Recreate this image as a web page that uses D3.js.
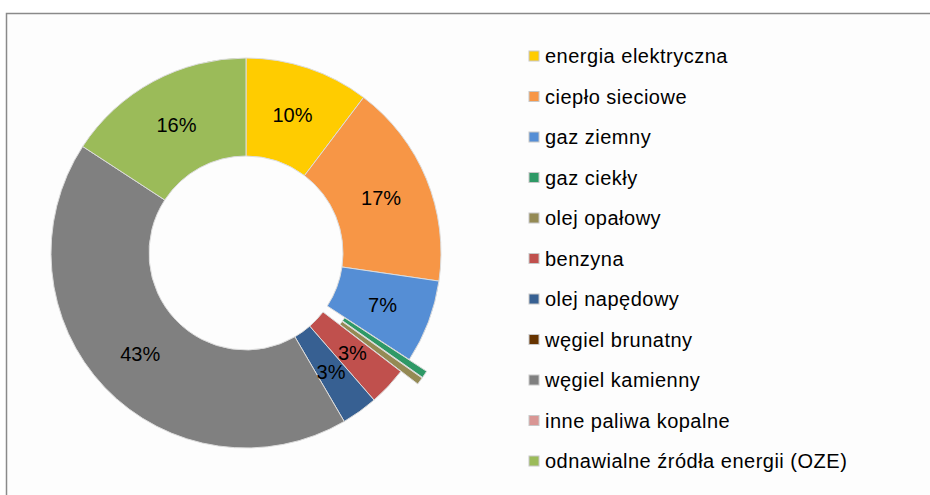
<!DOCTYPE html>
<html>
<head>
<meta charset="utf-8">
<script src="https://cdn.jsdelivr.net/npm/d3@7"></script>
<style>
  body { margin: 0; background: #ffffff; }
  svg { display: block; font-family: "Liberation Sans", Arial, sans-serif; }
</style>
</head>
<body>
<div id="chart"></div>
<script>
// categories and shares (%)
const categories = ["energia elektryczna", "ciepło sieciowe", "gaz ziemny", "gaz ciekły",
  "olej opałowy", "benzyna", "olej napędowy", "węgiel brunatny", "węgiel kamienny",
  "inne paliwa kopalne", "odnawialne źródła energii (OZE)"];
const shares = [10.3, 17.0, 6.9, 0.6, 0.6, 3.2, 3.0, 0, 42.6, 0, 15.8];
const colors = ["#FFCC00", "#F79646", "#558ED5", "#2E9966", "#948A54", "#C0504D",
  "#376092", "#663300", "#808080", "#D99694", "#9BBB59"];
// slices pulled out of the ring
const exploded = ["gaz ciekły", "olej opałowy"];

const width = 930, height = 495;
const svg = d3.select("#chart").append("svg").attr("width", width).attr("height", height);

// frame
svg.append("rect").attr("x", 7).attr("y", 13).attr("width", width - 7).attr("height", height - 13)
  .attr("fill", "#fdfdfd");
svg.append("path").attr("d", `M6.5,${height} V13.5 H${width}`)
  .attr("fill", "none").attr("stroke", "#8a8a8a").attr("stroke-width", 1.5);

const cx = 246, cy = 253, outerR = 195, innerR = 97, explode = 21;
const data = categories.map((c, i) => ({ name: c, value: shares[i], color: colors[i] }));

const pie = d3.pie().value(d => d.value).sort(null);
const arc = d3.arc().innerRadius(innerR).outerRadius(outerR);
const arcs = pie(data);

const g = svg.append("g").attr("transform", `translate(${cx},${cy})`);

function shift(d) {
  if (!exploded.includes(d.data.name)) return [0, 0];
  const a = (d.startAngle + d.endAngle) / 2;
  return [Math.sin(a) * explode, -Math.cos(a) * explode];
}

g.selectAll("path.slice").data(arcs.filter(d => d.value > 0))
  .join("path")
  .attr("class", "slice")
  .attr("d", arc)
  .attr("transform", d => `translate(${shift(d)})`)
  .attr("fill", d => d.data.color)
  .attr("stroke", "#dcdcdc")
  .attr("stroke-width", 1);

// percentage labels (small slices unlabeled)
g.selectAll("text.pct").data(arcs.filter(d => d.value >= 2))
  .join("text")
  .attr("class", "pct")
  .attr("transform", d => `translate(${arc.centroid(d)})`)
  .attr("text-anchor", "middle")
  .attr("dy", "0.36em")
  .attr("font-size", 20)
  .attr("fill", "#000")
  .text(d => Math.round(d.data.value) + "%");

// legend
const legendY = d3.scalePoint().domain(categories).range([56, 461]);
const leg = svg.append("g").selectAll("g").data(data).join("g")
  .attr("transform", d => `translate(529,${legendY(d.name)})`);
leg.append("rect").attr("x", 0).attr("y", -5).attr("width", 10).attr("height", 10)
  .attr("fill", d => d.color).attr("stroke", "#c8c8c8").attr("stroke-width", 1);
leg.append("text").attr("x", 16).attr("dy", "0.36em")
  .attr("font-size", 20).attr("letter-spacing", 0.5).attr("fill", "#000")
  .text(d => d.name);
</script>
</body>
</html>
